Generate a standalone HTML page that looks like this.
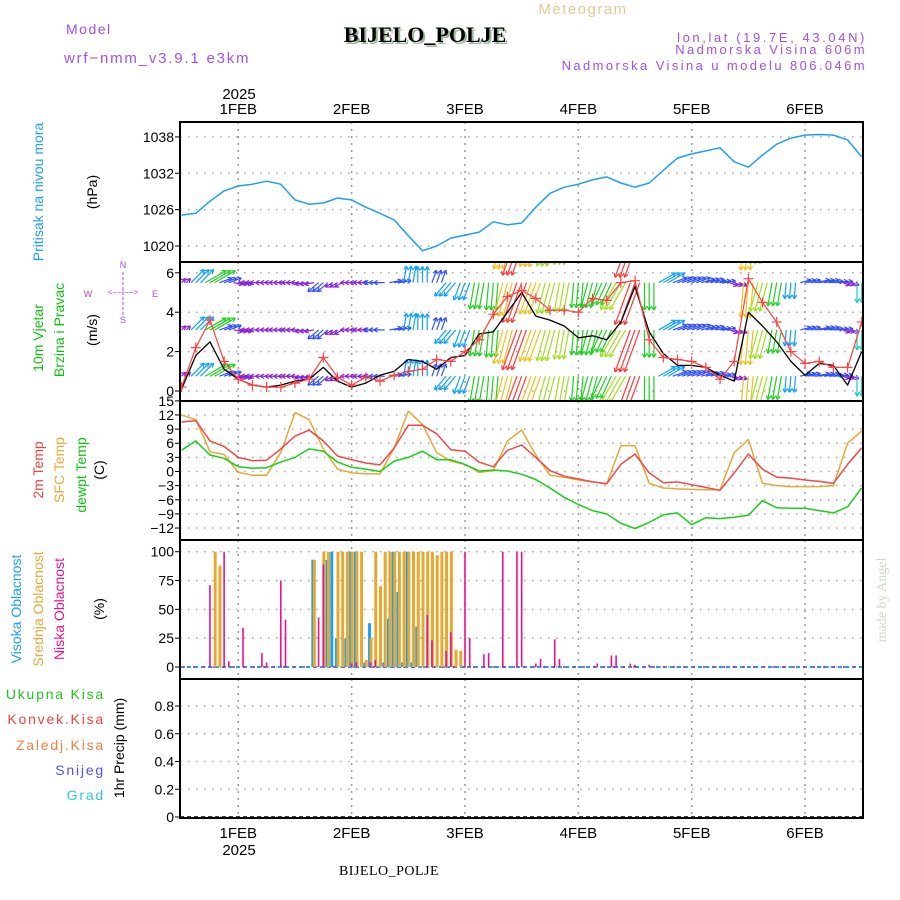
<!DOCTYPE html>
<html><head><meta charset="utf-8"><style>
html,body{margin:0;padding:0;background:#fff;}
svg{display:block;font-family:"Liberation Sans",sans-serif;}
</style></head><body>
<svg id="chart" width="900" height="900" viewBox="0 0 900 900" xmlns="http://www.w3.org/2000/svg">
<defs>
<clipPath id="c1"><rect x="180" y="122" width="683" height="140"/></clipPath>
<clipPath id="c2"><rect x="180" y="262" width="683" height="139"/></clipPath>
<clipPath id="c3"><rect x="180" y="401" width="683" height="139"/></clipPath>
</defs>
<text x="66" y="34" font-size="14" fill="#a050e8" letter-spacing="1.5">Model</text>
<text x="64" y="63" font-size="15" fill="#a050e8" letter-spacing="1.8">wrf−nmm_v3.9.1 e3km</text>
<text x="583" y="14" font-size="15" fill="#e8c890" text-anchor="middle" letter-spacing="1.5">Meteogram</text>
<text x="427" y="44" font-size="22" font-weight="bold" font-family="Liberation Serif,serif" fill="#9ab89a" text-anchor="middle">BIJELO_POLJE</text>
<text x="425" y="42" font-size="22" font-weight="bold" font-family="Liberation Serif,serif" fill="#000" text-anchor="middle">BIJELO_POLJE</text>
<text x="867" y="42" font-size="13" fill="#a050e8" text-anchor="end" letter-spacing="2.6">lon,lat (19.7E, 43.04N)</text>
<text x="867" y="54" font-size="13" fill="#a050e8" text-anchor="end" letter-spacing="2.4">Nadmorska Visina 606m</text>
<text x="867" y="70" font-size="13" fill="#a050e8" text-anchor="end" letter-spacing="2.4">Nadmorska Visina u modelu 806.046m</text>
<text x="239" y="99" font-size="15" fill="#000" text-anchor="middle">2025</text>
<text x="389" y="875" font-size="14" font-family="Liberation Serif,serif" fill="#000" text-anchor="middle" letter-spacing="0.5">BIJELO_POLJE</text>
<text x="239" y="855" font-size="15" fill="#000" text-anchor="middle">2025</text>
<text transform="translate(886,600) rotate(-90)" font-size="14" fill="#cfd8cf" text-anchor="middle" font-family="Liberation Serif,serif">made by Angel</text>

<text transform="translate(43,192) rotate(-90)" font-size="14" fill="#1ea0f0" text-anchor="middle">Pritisak na nivou mora</text>
<text transform="translate(97,192) rotate(-90)" font-size="14" fill="#000" text-anchor="middle">(hPa)</text>
<text transform="translate(43,338) rotate(-90)" font-size="14" fill="#10c010" text-anchor="middle">10m Vjetar</text>
<text transform="translate(64,330) rotate(-90)" font-size="14" fill="#10c010" text-anchor="middle">Brzina i Pravac</text>
<text transform="translate(97,330) rotate(-90)" font-size="14" fill="#000" text-anchor="middle">(m/s)</text>
<g fill="#a050e8" font-size="9" text-anchor="middle">
<text x="123" y="268">N</text><text x="88" y="297">W</text><text x="155" y="297">E</text><text x="123" y="323">S</text>
<text x="123" y="295" font-size="8">&lt;−−I−−&gt;</text>
<line x1="123" y1="272" x2="123" y2="316" stroke="#a050e8" stroke-width="1" stroke-dasharray="3,2"/>
</g>
<text transform="translate(43,470) rotate(-90)" font-size="14" fill="#f04040" text-anchor="middle">2m Temp</text>
<text transform="translate(64,470) rotate(-90)" font-size="14" fill="#e8a838" text-anchor="middle">SFC Temp</text>
<text transform="translate(86,475) rotate(-90)" font-size="14" fill="#10c010" text-anchor="middle">dewpt Temp</text>
<text transform="translate(104,470) rotate(-90)" font-size="14" fill="#000" text-anchor="middle">(C)</text>
<text transform="translate(21,609) rotate(-90)" font-size="14" fill="#1ea0f0" text-anchor="middle">Visoka Oblacnost</text>
<text transform="translate(43,609) rotate(-90)" font-size="14" fill="#e8a838" text-anchor="middle">Srednja Oblacnost</text>
<text transform="translate(64,609) rotate(-90)" font-size="14" fill="#f0108a" text-anchor="middle">Niska Oblacnost</text>
<text transform="translate(104,609) rotate(-90)" font-size="14" fill="#000" text-anchor="middle">(%)</text>
<text x="105" y="699" font-size="14" fill="#20c820" text-anchor="end" letter-spacing="1.8">Ukupna Kisa</text>
<text x="105" y="724" font-size="14" fill="#f04040" text-anchor="end" letter-spacing="1.8">Konvek.Kisa</text>
<text x="105" y="750" font-size="14" fill="#f08040" text-anchor="end" letter-spacing="1.8">Zaledj.Kisa</text>
<text x="105" y="775" font-size="14" fill="#5050f0" text-anchor="end" letter-spacing="1.8">Snijeg</text>
<text x="105" y="800" font-size="14" fill="#30c8d8" text-anchor="end" letter-spacing="1.8">Grad</text>
<text transform="translate(124,748) rotate(-90)" font-size="14" fill="#000" text-anchor="middle">1hr Precip (mm)</text>

<g id="grid"></g>
<g id="marks"></g>
<g id="frames"></g>
</svg>
<script>
// ---- data (3-hourly, hours relative to 1 FEB 00 UTC) ----
const hours = [-12,-9,-6,-3,0,3,6,9,12,15,18,21,24,27,30,33,36,39,42,45,48,51,54,57,60,63,66,69,72,75,78,81,84,87,90,93,96,99,102,105,108,111,114,117,120,123,126,129,132];
const pressure = [1025.1,1025.4,1027.4,1029.1,1029.9,1030.2,1030.7,1030.2,1027.6,1026.9,1027.1,1027.9,1027.6,1026.4,1025.4,1024.3,1021.7,1019.2,1020.0,1021.3,1021.8,1022.3,1024.0,1023.5,1023.8,1026.4,1028.7,1029.7,1030.2,1030.9,1031.4,1030.4,1029.7,1030.4,1032.5,1034.5,1035.2,1035.7,1036.2,1033.9,1033.0,1035.0,1036.8,1037.8,1038.3,1038.4,1038.3,1037.5,1034.7];
const windSpeed = [0.1,1.8,2.5,1.1,0.6,0.3,0.2,0.3,0.5,0.6,1.2,0.5,0.2,0.4,0.8,1.0,1.6,1.5,1.1,1.7,1.8,2.9,3.0,4.0,5.0,3.8,3.6,3.3,2.7,2.8,2.6,3.5,5.3,3.0,1.9,1.3,1.3,1.2,0.8,0.5,4.0,3.3,2.5,1.5,0.8,1.4,1.3,0.3,2.0];
const windGust = [0.2,2.2,3.6,1.5,0.6,0.3,0.2,0.2,0.4,0.6,1.7,0.7,0.3,0.7,0.5,0.8,1.0,1.1,1.6,1.5,2.0,2.6,3.9,4.8,5.1,4.7,4.1,4.1,4.0,4.7,4.6,5.5,5.6,2.6,1.7,1.6,1.5,1.2,0.6,1.5,5.7,4.5,3.5,2.0,1.4,1.5,1.2,1.2,3.5];
const windDirTo = [45,45,60,70,100,270,270,270,270,260,230,240,270,270,270,80,10,0,20,220,200,190,185,195,200,200,195,190,185,195,205,210,200,180,60,70,70,75,80,110,185,195,190,185,75,80,85,110,180];
const temp2m = [10.5,10.8,6.5,5.3,3.0,2.3,2.4,4.8,7.5,8.8,6.5,3.3,2.5,1.8,1.4,5.0,9.8,9.8,8.0,4.6,4.3,2.0,1.0,4.5,5.6,3.0,0.2,-1.0,-1.6,-2.2,-2.6,1.5,3.7,-0.3,-2.4,-2.2,-2.8,-3.4,-4.0,-0.3,3.7,0.5,-1.2,-1.4,-1.8,-2.1,-2.5,1.5,5.0];
const tempSfc = [12.0,11.0,4.2,3.6,-0.2,-0.8,-0.8,4.0,12.5,11.0,4.8,0.5,-0.3,-0.5,-0.5,5.0,12.8,10.0,4.0,2.2,1.5,-0.2,0.2,6.5,8.8,3.5,-0.8,-1.2,-1.8,-2.2,-2.6,5.5,5.5,-2.5,-3.5,-3.7,-3.8,-3.9,-3.9,4.0,6.8,-2.5,-3.0,-3.2,-3.2,-3.2,-3.0,6.0,8.6];
const dewpt = [4.5,6.5,3.5,2.8,1.0,0.7,0.8,2.0,3.0,4.8,4.3,2.0,0.9,0.5,0.0,2.2,3.0,4.3,2.5,2.5,1.5,0.1,0.3,0.1,-0.6,-1.7,-3.5,-5.5,-7.0,-8.3,-9.0,-11.0,-12.1,-10.8,-9.2,-8.8,-11.3,-9.8,-10.0,-9.7,-9.3,-6.2,-7.7,-7.8,-7.8,-8.3,-8.8,-7.5,-3.5];
// cloud bars (hourly)
const highHours = [16,19,20,21,23,24,25,27,28,31,32,33,34,35,36,37,38];
const highVals  = [93,93,100,25,25,100,100,4,38,4,42,100,65,4,100,4,35];
const midHours = [-5,-4,16,18,19,21,22,23,24,25,26,27,28,29,30,31,32,33,34,35,36,37,38,39,40,41,42,43,44,45,46,47];
const midVals  = [100,88,93,100,100,100,100,100,100,100,100,6,25,100,70,100,100,100,100,100,100,100,100,100,100,100,97,100,100,100,15,14];
const lowHours = [-6,-3,-2,1,5,6,9,10,17,18,24,25,28,29,40,41,44,45,48,49,52,53,56,59,60,63,64,67,68,76,79,80,83,84,87];
const lowVals  = [71,100,5,34,12,4,75,41,43,89,3,4,4,6,45,23,14,30,100,25,11,12,100,100,100,3,7,24,7,3,10,10,3,2,2];
const pTicks = [1020,1026,1032,1038];
const wTicks = [0,2,4,6];
const tTicks = [-12,-9,-6,-3,0,3,6,9,12,15];
const cTicks = [0,25,50,75,100];
const rTicks = [0,0.2,0.4,0.6,0.8];
const dayLabels = ['1FEB','2FEB','3FEB','4FEB','5FEB','6FEB'];
const dayHours = [0,24,48,72,96,120];

// ---- axes ----
const L=180,R=863;
const X = t => 238.3 + t*113.35/24;
const yP = v => 246 - (v-1020)*6.06;
const yW = v => 391 - v*19.7;
const yT = v => 471.5 - v*4.71;
const yC = v => 667 - v*1.153;
const yR = v => 817 - v*138.75;
const NS='http://www.w3.org/2000/svg';
function mk(tag, attrs, parent){const e=document.createElementNS(NS,tag);for(const k in attrs)e.setAttribute(k,attrs[k]);parent.appendChild(e);return e;}
const grid=document.getElementById('grid'), marks=document.getElementById('marks'), frames=document.getElementById('frames');

const panels=[{top:122,bot:262,ticks:pTicks,f:yP,name:'pressure'},{top:262,bot:401,ticks:wTicks,f:yW,name:'wind'},{top:401,bot:540,ticks:tTicks,f:yT,name:'temp'},{top:540,bot:679,ticks:cTicks,f:yC,name:'cloud'},{top:679,bot:818,ticks:rTicks,f:yR,name:'precip'}];
panels.forEach(p=>{
  p.ticks.forEach(v=>{
    const y=p.f(v);
    const gl=mk('line',{x1:L,x2:R,y1:y,y2:y,stroke:'#aaa','stroke-width':1.5,'stroke-dasharray':'1.5,6.5'},grid);
    
    
    mk('line',{x1:L-5,x2:L,y1:y,y2:y,stroke:'#000','stroke-width':1},grid);
    const lab=(p.name==='precip'&&v===0)?'0':String(v).replace('-','−');
    const tx=mk('text',{x:L-6,y:y+5,'font-size':14,'text-anchor':'end',fill:'#000'},grid);
    tx.textContent=lab;
    
    
  });
  dayHours.forEach(h=>{
    const x=X(h);
    const vl=mk('line',{x1:x,x2:x,y1:p.top,y2:p.bot,stroke:'#999','stroke-width':1.5,'stroke-dasharray':'2,5'},grid);
    
    
  });
  const fr=mk('rect',{x:L,y:p.top,width:R-L,height:p.bot-p.top,fill:'none',stroke:'#000','stroke-width':2},frames);
  
  
});
dayHours.forEach((h,i)=>{
  const x=X(h);
  const a=mk('text',{x:x,y:114,'font-size':15,'text-anchor':'middle',fill:'#000'},grid);
  a.textContent=dayLabels[i];
  
  
  const b=mk('text',{x:x,y:838,'font-size':15,'text-anchor':'middle',fill:'#000'},grid);
  b.textContent=dayLabels[i];
  
  
});

function line(vals,f,color,w,clip,name){
  const d=vals.map((v,i)=>(i?'L':'M')+X(hours[i]).toFixed(1)+','+f(v).toFixed(1)).join('');
  const el=mk('path',{d:d,fill:'none',stroke:color,'stroke-width':w,'clip-path':'url(#'+clip+')','stroke-linejoin':'round'},marks);
  
  
  return el;
}
line(pressure,yP,'#1ea0f0',1.5,'c1','pressure-line');

// wind arrows
function windColor(s){
  if(s<0.8)return '#8a20e0'; if(s<1.5)return '#3050ff'; if(s<2)return '#10a0ff'; if(s<2.5)return '#20c8c0';
  if(s<3.2)return '#20d020'; if(s<3.8)return '#a0e020'; if(s<4.3)return '#f0c020'; if(s<5)return '#f08020'; return '#ff3838';
}
const rows=[0.75,3.1,5.5,7.9];
const wg=mk('g',{'clip-path':'url(#c2)'},marks);


hours.forEach((h,i)=>{
  const s=windSpeed[i], dir=windDirTo[i]*Math.PI/180, col=windColor(s), len=5+s*7.5;
  [-1,0,1].forEach(o=>{
    rows.forEach(r=>{
      const x0=X(h+o), y0=yW(r);
      const x1=x0+Math.sin(dir)*len, y1=y0-Math.cos(dir)*len;
      const a=mk('line',{x1:x0,y1:y0,x2:x1,y2:y1,stroke:col,'stroke-width':1.2},wg);
      
      
      [2.6,-2.6].forEach(da=>{
        const ang=dir+Math.PI+da*0.2;
        mk('line',{x1:x1,y1:y1,x2:x1+Math.sin(ang)*4.5,y2:y1-Math.cos(ang)*4.5,stroke:col,'stroke-width':1.2},wg);
      });
    });
  });
});
line(windSpeed,yW,'#000',1.3,'c2','wind-speed-line');
line(windGust,yW,'#ff4040',1.2,'c2','wind-gust-line');
const gg=mk('g',{'clip-path':'url(#c2)'},marks);
hours.forEach((h,i)=>{
  const x=X(h), y=yW(windGust[i]);
  const p=mk('path',{d:`M${x-5},${y}h10M${x},${y-5}v10`,stroke:'#ff4040','stroke-width':1.2},gg);
  
  
});

// temperatures
line(tempSfc,yT,'#e8a838',1.5,'c3','sfc-temp-line');
line(temp2m,yT,'#f04848',1.5,'c3','temp-2m-line');
line(dewpt,yT,'#18d018',1.5,'c3','dewpoint-line');

// cloud baseline
const bl=mk('line',{x1:L,x2:R,y1:yC(0),y2:yC(0),stroke:'#1ea0f0','stroke-width':2,'stroke-dasharray':'4,3'},marks);


mk('line',{x1:L+3,x2:R,y1:yC(0),y2:yC(0),stroke:'#f0108a','stroke-width':1.5,'stroke-dasharray':'2,8'},marks);
function bars(hs,vs,color,w,off,name){
  hs.forEach((h,i)=>{
    const x=X(h)+off, y=yC(vs[i]);
    const b=mk('rect',{x:x-w/2,y:y,width:w,height:yC(0)-y,fill:color},marks);
    
    
  });
}
bars(highHours,highVals,'#1ea0f0',3,-1,'high-cloud-bar');
bars(midHours,midVals,'#e8a830',3,0.5,'mid-cloud-bar');
bars(lowHours,lowVals,'#f0108a',1.6,0,'low-cloud-bar');

// precip baseline
const pb=mk('line',{x1:L,x2:R,y1:817,y2:817,stroke:'#000','stroke-width':1.5,'stroke-dasharray':'4,3'},marks);


</script>
</body></html>
